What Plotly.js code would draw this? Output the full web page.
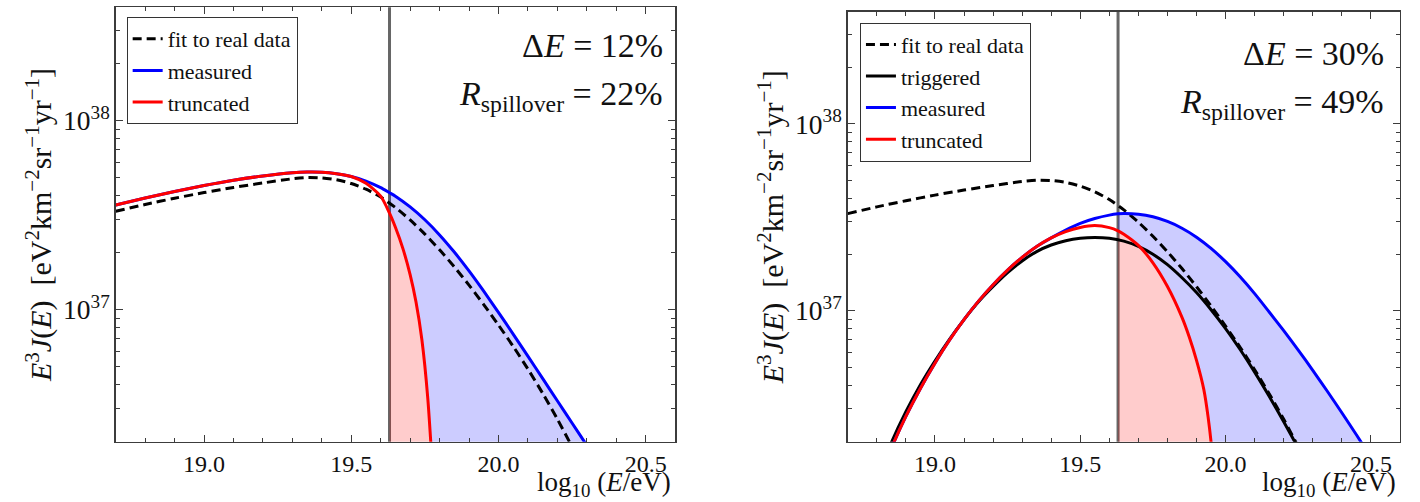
<!DOCTYPE html>
<html>
<head>
<meta charset="utf-8">
<script src="https://cdn.plot.ly/plotly-3.0.1.min.js"></script>
<style>html,body{margin:0;padding:0;background:#fff;}#chart{width:1420px;height:502px;}</style>
</head>
<body>
<div id="chart"></div>
<script>
// ---------- data ----------
const threshold = 19.63;              // log10(E/eV) of the vertical line

// fit to real data (same in both panels)
const fitX = [18.7,18.8,18.9,19.0,19.1,19.2,19.3,19.35,19.4,19.45,19.5,19.55,19.6,19.65,19.7,19.75,19.8,19.85,19.9,19.95,20.0,20.05,20.1,20.15,20.2,20.25,20.3];
const fitY = [3.311e37,3.597e37,3.882e37,4.159e37,4.426e37,4.677e37,4.920e37,5.000e37,4.977e37,4.864e37,4.645e37,4.335e37,3.936e37,3.467e37,2.979e37,2.506e37,2.070e37,1.683e37,1.346e37,1.062e37,8.279e36,6.383e36,4.842e36,3.606e36,2.630e36,1.875e36,1.306e36];

// left panel: dE = 12 %
const measLX = [18.7,18.8,18.9,19.0,19.1,19.2,19.3,19.35,19.4,19.45,19.5,19.55,19.6,19.63,19.65,19.7,19.75,19.8,19.85,19.9,19.95,20.0,20.05,20.1,20.15,20.2,20.25,20.3,20.35];
const measLY = [3.573e37,3.890e37,4.217e37,4.529e37,4.831e37,5.093e37,5.297e37,5.346e37,5.333e37,5.236e37,5.058e37,4.786e37,4.416e37,4.150e37,3.981e37,3.491e37,2.985e37,2.483e37,2.014e37,1.600e37,1.250e37,9.66e36,7.413e36,5.662e36,4.315e36,3.289e36,2.506e36,1.910e36,1.455e36];
const truncLX = [18.7,18.8,18.9,19.0,19.1,19.2,19.3,19.35,19.4,19.45,19.5,19.55,19.6,19.63,19.65,19.675,19.7,19.72,19.74,19.76,19.78];
const truncLY = [3.573e37,3.890e37,4.217e37,4.529e37,4.831e37,5.093e37,5.297e37,5.346e37,5.333e37,5.236e37,5.058e37,4.656e37,3.981e37,3.236e37,2.723e37,2.113e37,1.531e37,1.096e37,6.918e36,3.388e36,1.122e36];

// right panel: dE = 30 %
const trigRX = [18.8,18.85,18.9,18.95,19.0,19.05,19.1,19.15,19.2,19.25,19.3,19.35,19.4,19.45,19.5,19.55,19.6,19.65,19.7,19.75,19.8,19.85,19.9,19.95,20.0,20.05,20.1,20.15,20.2,20.25,20.3];
const trigRY = [1.259e36,1.972e36,2.884e36,4.027e36,5.395e36,7.047e36,8.974e36,1.117e37,1.349e37,1.600e37,1.849e37,2.075e37,2.249e37,2.371e37,2.443e37,2.466e37,2.443e37,2.360e37,2.213e37,2.009e37,1.766e37,1.503e37,1.253e37,1.014e37,8.035e36,6.209e36,4.699e36,3.491e36,2.553e36,1.841e36,1.312e36];
const measRX = [18.8,18.85,18.9,18.95,19.0,19.05,19.1,19.15,19.2,19.25,19.3,19.35,19.4,19.45,19.5,19.55,19.6,19.63,19.65,19.7,19.75,19.8,19.85,19.9,19.95,20.0,20.05,20.1,20.15,20.2,20.25,20.3,20.35,20.4,20.45,20.5,20.55];
const measRY = [1.175e36,1.841e36,2.723e36,3.846e36,5.248e36,6.966e36,8.974e36,1.127e37,1.380e37,1.652e37,1.932e37,2.208e37,2.455e37,2.704e37,2.938e37,3.119e37,3.251e37,3.304e37,3.319e37,3.289e37,3.184e37,3.006e37,2.767e37,2.477e37,2.158e37,1.832e37,1.521e37,1.236e37,9.863e36,7.834e36,6.166e36,4.808e36,3.715e36,2.851e36,2.173e36,1.648e36,1.259e36];
const truncRX = [18.8,18.85,18.9,18.95,19.0,19.05,19.1,19.15,19.2,19.25,19.3,19.35,19.4,19.45,19.5,19.55,19.6,19.63,19.65,19.7,19.75,19.8,19.85,19.875,19.9,19.925,19.94,19.955,19.97];
const truncRY = [1.175e36,1.841e36,2.723e36,3.846e36,5.248e36,6.966e36,8.974e36,1.127e37,1.380e37,1.652e37,1.932e37,2.208e37,2.455e37,2.655e37,2.793e37,2.858e37,2.786e37,2.679e37,2.570e37,2.239e37,1.807e37,1.349e37,9.226e36,7.244e36,5.433e36,3.802e36,2.692e36,1.660e36,7.94e35];

const xTickVals = [19.0, 19.5, 20.0, 20.5];
const labels = {fit:'fit to real data', trig:'triggered', meas:'measured', trunc:'truncated'};
const texts = {
  left:  ['Δ<i>E</i> = 12%', '<i>R</i><sub>spillover</sub> = 22%'],
  right: ['Δ<i>E</i> = 30%', '<i>R</i><sub>spillover</sub> = 49%']
};

// ---------- helpers ----------
const FONT = 'Liberation Serif';
const floorY = 1e35; // below the visible range, closes the red fill
function above(xs, ys){ const o={x:[],y:[]}; xs.forEach((v,i)=>{ if(v>=threshold-1e-9){o.x.push(v);o.y.push(ys[i]);} }); return o; }
function fills(mx,my,tx,ty,xa,ya){
  const m = above(mx,my), t = above(tx,ty);
  const blue = {x: m.x.concat(t.x.slice().reverse()), y: m.y.concat(t.y.slice().reverse()),
    type:'scatter', mode:'lines', fill:'toself', fillcolor:'rgba(0,0,255,0.2)', line:{width:0},
    showlegend:false, hoverinfo:'skip', xaxis:xa, yaxis:ya};
  const red = {x: t.x.concat([t.x[t.x.length-1], t.x[0]]), y: t.y.concat([floorY, floorY]),
    type:'scatter', mode:'lines', fill:'toself', fillcolor:'rgba(255,0,0,0.2)', line:{width:0},
    showlegend:false, hoverinfo:'skip', xaxis:xa, yaxis:ya};
  return [blue, red];
}
function line(x,y,name,color,xa,ya,lg,dash){
  return {x:x, y:y, name:name, type:'scatter', mode:'lines', xaxis:xa, yaxis:ya, legend:lg, legendgroup:lg+name,
    line:{color:color, width:3, shape:'spline', smoothing:0.7, dash: dash||'solid'}};
}

const traces = [
  ...fills(measLX, measLY, truncLX, truncLY, 'x', 'y'),
  line(fitX, fitY, labels.fit, '#000', 'x', 'y', 'legend', '9px,5px'),
  line(measLX, measLY, labels.meas, '#0000ff', 'x', 'y', 'legend'),
  line(truncLX, truncLY, labels.trunc, '#ff0000', 'x', 'y', 'legend'),
  ...fills(measRX, measRY, truncRX, truncRY, 'x2', 'y2'),
  line(fitX, fitY, labels.fit, '#000', 'x2', 'y2', 'legend2', '9px,5px'),
  line(trigRX, trigRY, labels.trig, '#000', 'x2', 'y2', 'legend2'),
  line(measRX, measRY, labels.meas, '#0000ff', 'x2', 'y2', 'legend2'),
  line(truncRX, truncRY, labels.trunc, '#ff0000', 'x2', 'y2', 'legend2')
];

const AX = '#3c3c3c';
function xax(dom, anchor){
  return {domain:dom, anchor:anchor, range:[18.7,20.6], tickvals:xTickVals, tickformat:'.1f',
    ticks:'inside', ticklen:7, tickwidth:1, tickcolor:AX, showline:true, linecolor:AX, linewidth:1.5,
    mirror:'ticks', showgrid:false, zeroline:false,
    minor:{dtick:0.1, tick0:19, ticks:'inside', ticklen:4, tickcolor:AX, showgrid:false},
    tickfont:{family:FONT, size:24, color:'#111'}};
}
const ytitle = '<i>E</i><sup>3</sup><i>J</i>(<i>E</i>)  [eV<sup>2</sup>km<sup>−2</sup>sr<sup>−1</sup>yr<sup>−1</sup>]';
function yax(dom, anchor){
  return {domain:dom, anchor:anchor, type:'log', range:[36.3,38.6], dtick:1, exponentformat:'power',
    ticks:'inside', ticklen:7, tickwidth:1, tickcolor:AX, showline:true, linecolor:AX, linewidth:1.5,
    mirror:'ticks', showgrid:false, zeroline:false,
    minor:{dtick:'D1', ticks:'inside', ticklen:4, tickcolor:AX, showgrid:false},
    tickfont:{family:FONT, size:22, color:'#111'},
    title:{text:ytitle, font:{family:FONT, size:30, color:'#111'}, standoff:2}};
}

function ann(text, xref, yref, x, y, size, xanchor){
  return {text:text, xref:xref, yref:yref, x:x, y:y, xanchor:xanchor||'right', yanchor:'middle',
    showarrow:false, font:{family:FONT, size:size, color:'#111'}};
}

const LEGFONT = {family:FONT, size:22, color:'#111'};
const layout = {
  width:1420, height:502, margin:{l:0,r:0,t:0,b:0},
  font:{family:FONT, size:22, color:'#111'},
  paper_bgcolor:'#fff', plot_bgcolor:'#fff',
  xaxis: xax([0.0815,0.4754],'y'),
  yaxis: yax([0.1201,0.9855],'x'),
  xaxis2: xax([0.597,0.9859],'y2'),
  yaxis2: yax([0.1201,0.9767],'x2'),
  legend:{x:0.0892, y:0.966, xanchor:'left', yanchor:'top', bgcolor:'#fff', bordercolor:'#333', borderwidth:1,
    font:LEGFONT, tracegroupgap:2, traceorder:'normal'},
  legend2:{x:0.6056, y:0.955, xanchor:'left', yanchor:'top', bgcolor:'#fff', bordercolor:'#333', borderwidth:1,
    font:LEGFONT, tracegroupgap:2, traceorder:'normal'},
  shapes:[
    {type:'line', xref:'x', yref:'y domain', x0:threshold, x1:threshold, y0:0, y1:1, layer:'below', line:{color:'#666', width:3}},
    {type:'line', xref:'x2', yref:'y2 domain', x0:threshold, x1:threshold, y0:0, y1:1, layer:'below', line:{color:'#666', width:3}}
  ],
  annotations:[
    ann(texts.left[0], 'x domain', 'y domain', 0.982, 0.913, 34),
    ann(texts.left[1], 'x domain', 'y domain', 0.982, 0.795, 34),
    ann(texts.right[0], 'x2 domain', 'y2 domain', 0.975, 0.902, 34),
    ann(texts.right[1], 'x2 domain', 'y2 domain', 0.975, 0.785, 34),
    ann('log<sub>10</sub> (<i>E</i>/eV)', 'x domain', 'paper', 0.997, 0.036, 27),
    ann('log<sub>10</sub> (<i>E</i>/eV)', 'x2 domain', 'paper', 0.997, 0.036, 27)
  ]
};

Plotly.newPlot('chart', traces, layout, {staticPlot:true});
</script>
</body>
</html>
